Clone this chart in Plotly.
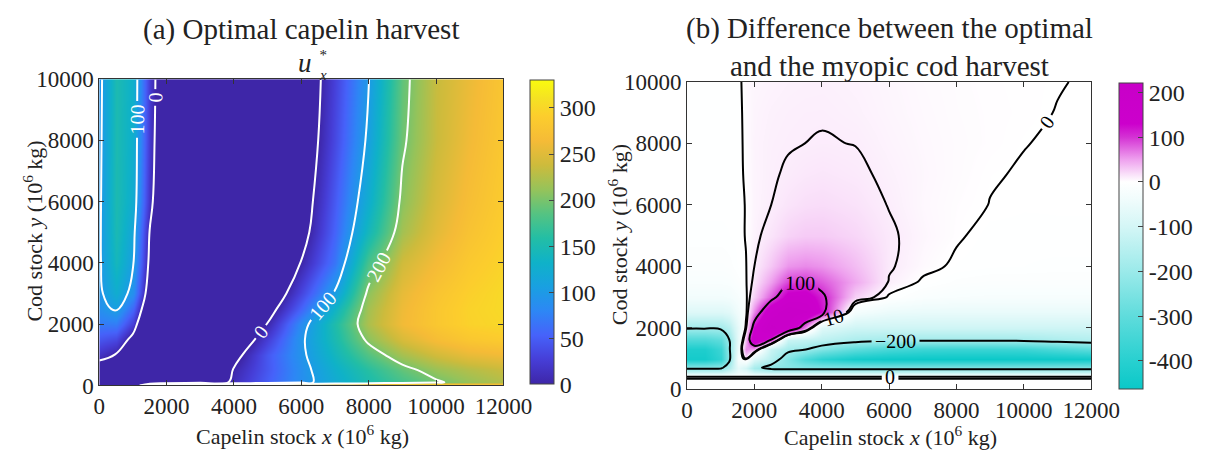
import plotly.graph_objects as go

FONT = "Liberation Serif"
W, H = 1227, 459

# ---------------- Panel (a): optimal capelin harvest u_x* ----------------
capelin_a = [0, 500, 1000, 1500, 2000, 3000, 4000, 5000, 6000, 7000, 8000, 9000, 10000, 11000, 12000]
cod_a = [0, 100, 500, 1000, 1500, 2000, 2500, 3000, 4000, 5000, 6000, 8000, 10000]
# estimated field (values below 0 are the clipped, unharvested region)
ux_opt = [
    [-40, -40, -100, 150, 330, 330, 330, 330, 330, 330, 330, 330, 330, 300, 295],
    [-40, -40, -70, -100, -100, -50, 10, 50, 88, 122, 152, 176, 196, 212, 225],
    [-25, -30, -70, -100, -100, -60, 3, 45, 88, 128, 160, 190, 212, 225, 235],
    [15, -2, -50, -100, -100, -80, -15, 45, 93, 140, 183, 218, 240, 255, 262],
    [45, 35, -15, -90, -100, -100, -40, 25, 94, 150, 207, 245, 268, 282, 288],
    [70, 72, 25, -80, -100, -100, -60, 2, 85, 155, 222, 262, 282, 295, 300],
    [88, 105, 55, -50, -90, -100, -90, -20, 55, 135, 218, 260, 282, 296, 302],
    [93, 125, 88, -30, -80, -100, -100, -40, 32, 104, 208, 255, 278, 293, 302],
    [95, 142, 103, -10, -70, -100, -100, -70, 2, 68, 178, 240, 265, 285, 297],
    [95, 148, 112, -2, -60, -100, -100, -80, -17, 55, 142, 218, 252, 276, 292],
    [94, 150, 122, 12, -55, -100, -100, -90, -25, 48, 125, 207, 245, 270, 288],
    [92, 150, 126, 18, -45, -100, -100, -90, -35, 35, 107, 195, 236, 262, 283],
    [90, 150, 128, 20, -40, -100, -100, -90, -40, 29, 99, 190, 235, 258, 280],
]
levels_a = [0, 100, 200]
ticks_a = [0, 50, 100, 150, 200, 250, 300]

# ---------------- Panel (b): optimal minus myopic cod harvest ----------------
capelin_b = [0, 500, 1000, 1250, 1500, 1750, 2000, 2500, 3000, 3500, 4000, 5000, 6000, 7000, 8000, 9000, 10000, 11000, 12000]
cod_b = [0, 300, 400, 480, 560, 700, 1000, 1300, 1600, 2000, 2500, 3000, 3500, 4000, 5000, 6000, 7000, 8000, 9000, 10000]
uy_diff = [
    [-2] * 19,
    [-2] * 19,
    [3] * 19,
    [-40, -40, -40, -35, -20, -25, -35, -40, -40, -40, -40, -40, -40, -40, -40, -40, -40, -40, -40],
    [-130, -130, -130, -100, -50, -60, -110, -140, -140, -140, -140, -140, -140, -140, -140, -140, -140, -140, -140],
    [-220, -220, -215, -160, -60, -100, -180, -225, -230, -235, -235, -235, -235, -235, -235, -235, -235, -235, -235],
    [-440, -440, -380, -225, -25, 12, -80, -150, -240, -330, -390, -440, -455, -460, -460, -460, -458, -455, -450],
    [-420, -420, -360, -215, -50, 60, 50, -120, -180, -195, -240, -300, -340, -360, -365, -365, -360, -330, -300],
    [-330, -330, -300, -205, -60, 40, 180, 95, -120, -130, -140, -170, -185, -188, -188, -188, -185, -170, -160],
    [-190, -190, -185, -150, -60, 5, 130, 220, 180, 60, -80, -110, -110, -110, -110, -110, -110, -110, -110],
    [-80, -80, -80, -70, -35, -5, 60, 170, 210, 190, 120, -30, -50, -55, -55, -55, -55, -55, -55],
    [-35, -35, -35, -32, -20, -3, 25, 80, 145, 150, 110, 25, -2, -15, -20, -22, -22, -22, -22],
    [-18, -18, -18, -16, -8, -1, 14, 50, 92, 98, 82, 45, 9, -1.5, -8, -10, -10, -10, -10],
    [-10, -10, -10, -8, -3, -0.5, 10, 30, 55, 60, 55, 35, 11.5, 3, -1.6, -3.5, -4, -5, -5],
    [-5, -5, -5, -4, -3, 0.5, 7, 15, 24, 28, 28, 22, 12, 5, 1, -2.5, -2.5, -2, -2],
    [-3, -3, -3, -3, -3, 0.5, 6, 10, 15, 18, 19, 16, 9.5, 4, 1.5, -0.1, -1, -1, -1],
    [-3, -3, -3, -3, -3, 1.5, 6, 9, 11, 13, 14, 12, 8, 4.5, 2.2, 0.3, -0.3, -0.8, -1],
    [-3, -3, -3, -3, -3, 2, 6.5, 8.5, 9.4, 10, 10.5, 9.8, 6.5, 4, 2.3, 1.2, 0.1, -0.4, -0.8],
    [-3, -3, -3, -3, -3, 2.5, 6, 7.8, 8.7, 9.2, 9.3, 8, 5.5, 3.5, 2, 1.2, 0.6, -0.1, -0.5],
    [-3, -3, -3, -3, -3, 3.5, 5, 6.5, 7.5, 8, 8.2, 7, 5, 3, 1.8, 1, 0.5, 0.15, -0.3],
]
levels_b = [-200, 0, 10, 100]
ticks_b = [200, 100, 0, -100, -200, -300, -400]
zrange_b = [-463, 221]

axis_ticks_x = [0, 2000, 4000, 6000, 8000, 10000, 12000]
axis_ticks_y = [0, 2000, 4000, 6000, 8000, 10000]

parula = [
    [0.00, "rgb(62,38,168)"], [0.08, "rgb(70,62,215)"], [0.16, "rgb(70,98,250)"],
    [0.24, "rgb(45,135,245)"], [0.32, "rgb(25,160,225)"], [0.40, "rgb(15,178,200)"],
    [0.48, "rgb(35,190,165)"], [0.56, "rgb(85,195,130)"], [0.64, "rgb(150,195,90)"],
    [0.72, "rgb(205,187,60)"], [0.80, "rgb(245,187,55)"], [0.88, "rgb(252,205,45)"],
    [0.94, "rgb(245,226,35)"], [1.00, "rgb(249,251,14)"],
]


def pos_b(v):
    return (v - zrange_b[0]) / (zrange_b[1] - zrange_b[0])


diverg = [
    [pos_b(-463), "rgb(10,200,200)"], [pos_b(-400), "rgb(40,208,208)"],
    [pos_b(-300), "rgb(95,220,220)"], [pos_b(-200), "rgb(155,234,234)"],
    [pos_b(-100), "rgb(212,246,246)"], [pos_b(-40), "rgb(240,252,252)"],
    [pos_b(0), "rgb(255,255,255)"], [pos_b(15), "rgb(250,228,250)"],
    [pos_b(50), "rgb(238,160,238)"], [pos_b(100), "rgb(212,50,212)"],
    [pos_b(130), "rgb(204,0,204)"], [pos_b(221), "rgb(200,0,200)"],
]


def px(xp):
    return xp / W


def py(yp):
    return 1 - yp / H


fig = go.Figure()

cb_common = dict(thickness=24, thicknessmode="pixels", lenmode="pixels", xanchor="left",
                 yanchor="middle", ticks="inside", ticklen=5, outlinewidth=1,
                 outlinecolor="#444", tickfont=dict(family=FONT, size=24, color="#222"))

fig.add_trace(go.Heatmap(
    x=capelin_a, y=cod_a, z=ux_opt, zmin=0, zmax=330, zsmooth="best",
    colorscale=parula, xaxis="x", yaxis="y", hoverinfo="skip",
    colorbar=dict(x=px(529), y=py(233), len=324, tickvals=ticks_a,
                  ticktext=[str(t) for t in ticks_a], **cb_common),
))
for lev in levels_a:
    fig.add_trace(go.Contour(
        x=capelin_a, y=cod_a, z=ux_opt, autocontour=False, showscale=False,
        contours=dict(start=lev, end=lev, size=1, coloring="none", showlabels=True,
                      labelfont=dict(family=FONT, size=20, color="white")),
        line=dict(color="white", width=2, smoothing=1.2), xaxis="x", yaxis="y", hoverinfo="skip",
    ))

fig.add_trace(go.Heatmap(
    x=capelin_b, y=cod_b, z=uy_diff, zmin=zrange_b[0], zmax=zrange_b[1], zsmooth="best",
    colorscale=diverg, xaxis="x2", yaxis="y2", hoverinfo="skip",
    colorbar=dict(x=px(1135), y=py(237), len=326, tickvals=ticks_b,
                  ticktext=[str(t) for t in ticks_b], **cb_common),
))
for lev in levels_b:
    fig.add_trace(go.Contour(
        x=capelin_b, y=cod_b, z=uy_diff, autocontour=False, showscale=False,
        contours=dict(start=lev, end=lev, size=1, coloring="none", showlabels=True,
                      labelfont=dict(family=FONT, size=20, color="black")),
        line=dict(color="black", width=2, smoothing=1.2), xaxis="x2", yaxis="y2", hoverinfo="skip",
    ))

ax_common = dict(showline=True, linecolor="#333", linewidth=1, mirror="ticks",
                 ticks="inside", ticklen=5, tickcolor="#333", showgrid=False, zeroline=False,
                 tickfont=dict(family=FONT, size=23, color="#222"))
xt = dict(tickvals=axis_ticks_x, ticktext=[str(t) for t in axis_ticks_x], range=[0, 12000])
yt = dict(tickvals=axis_ticks_y, ticktext=[str(t) for t in axis_ticks_y], range=[0, 10000])

fig.update_layout(
    width=W, height=H, margin=dict(l=0, r=0, t=0, b=0),
    paper_bgcolor="white", plot_bgcolor="white", showlegend=False,
    xaxis=dict(domain=[px(96), px(512)], anchor="y", **xt, **ax_common),
    yaxis=dict(domain=[py(395), py(71)], anchor="x", **yt, **ax_common),
    xaxis2=dict(domain=[px(701), px(1117)], anchor="y2", **xt, **ax_common),
    yaxis2=dict(domain=[py(399), py(74)], anchor="x2", **yt, **ax_common),
)

title_font = dict(family=FONT, size=29, color="#222")
lab_font = dict(family=FONT, size=22, color="#222")
annots = [
    dict(text="(a) Optimal capelin harvest", x=px(304), y=py(19), font=title_font),
    dict(text="<i>u</i>", x=px(308), y=py(54), font=dict(family=FONT, size=27, color="#222")),
    dict(text="*<br><i>x</i>", x=px(326), y=py(56), font=dict(family=FONT, size=15, color="#222")),
    dict(text="(b) Difference between the optimal<br>and the myopic cod harvest",
         x=px(909), y=py(37), font=title_font),
    dict(text="Capelin stock <i>x</i> (10<sup>6</sup> kg)", x=px(305), y=py(447), font=lab_font),
    dict(text="Capelin stock <i>x</i> (10<sup>6</sup> kg)", x=px(910), y=py(448), font=lab_font),
    dict(text="Cod stock <i>y</i> (10<sup>6</sup> kg)", x=px(28), y=py(232), font=lab_font, textangle=-90),
    dict(text="Cod stock <i>y</i> (10<sup>6</sup> kg)", x=px(630), y=py(236), font=lab_font, textangle=-90),
]
for a in annots:
    a.update(xref="paper", yref="paper", showarrow=False, xanchor="center", yanchor="middle",
             borderpad=0)
fig.update_layout(annotations=annots)

fig.write_html("out.html")
